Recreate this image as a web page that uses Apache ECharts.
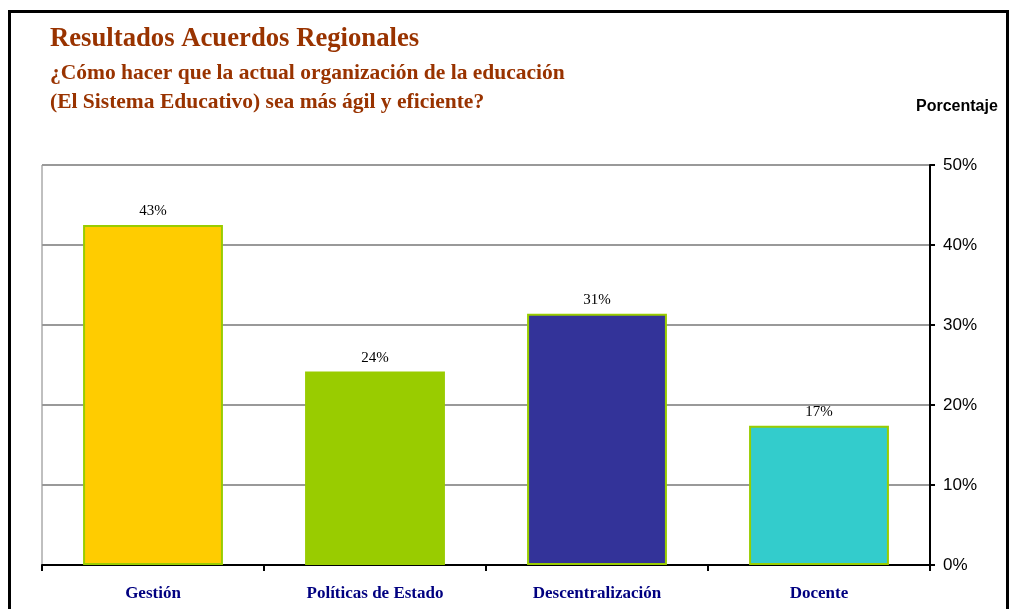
<!DOCTYPE html>
<html><head><meta charset="utf-8">
<script src="https://cdn.jsdelivr.net/npm/echarts@6/dist/echarts.min.js"></script>
<style>html,body{margin:0;padding:0;background:#fff}#c{width:1010px;height:609px}</style>
</head><body><div id="c"></div>
<script>
const categories = ['Gestión', 'Políticas de Estado', 'Descentralización', 'Docente'];
const values = [42.5, 24.2, 31.4, 17.4];
const barColors = ['#FFCC00', '#99CC00', '#333399', '#33CCCC'];
const yTicks = [0, 10, 20, 30, 40, 50];

const chart = echarts.init(document.getElementById('c'));
chart.setOption({
  animation: false,
  backgroundColor: '#fff',
  graphic: [
    { type: 'polyline', shape: { points: [[9.5, 620], [9.5, 11.5], [1007.5, 11.5], [1007.5, 620]] }, style: { stroke: '#000', lineWidth: 3, fill: null } },
    { type: 'text', left: 50, top: 26, style: { text: 'Resultados Acuerdos Regionales', font: 'bold 26.7px "Liberation Serif"', fill: '#993300' } },
    { type: 'text', left: 50, top: 62, style: { text: '¿Cómo hacer que la actual organización de la educación', font: 'bold 21.5px "Liberation Serif"', fill: '#993300' } },
    { type: 'text', left: 50, top: 91, style: { text: '(El Sistema Educativo) sea más ágil y eficiente?', font: 'bold 21.5px "Liberation Serif"', fill: '#993300' } },
    { type: 'text', left: 916, top: 99, style: { text: 'Porcentaje', font: 'bold 16px "Liberation Sans"', fill: '#000' } }
  ],
  grid: { left: 42, right: 80, top: 165, bottom: 44, show: true, borderColor: '#808080', borderWidth: 1 },
  xAxis: {
    type: 'category', data: categories,
    axisLine: { lineStyle: { color: '#000', width: 2 } },
    axisTick: { show: true, length: 6, lineStyle: { color: '#000', width: 2 } },
    axisLabel: { margin: 20, color: '#000080', fontFamily: 'Liberation Serif', fontWeight: 'bold', fontSize: 17 }
  },
  yAxis: {
    type: 'value', position: 'right', min: 0, max: 50, interval: 10,
    axisLine: { show: true, lineStyle: { color: '#000', width: 2 } },
    axisTick: { show: true, length: 5, lineStyle: { color: '#000', width: 2 } },
    axisLabel: { margin: 13, color: '#000', fontFamily: 'Liberation Sans', fontSize: 17, formatter: v => v + '%' },
    splitLine: { lineStyle: { color: '#999', width: 2 } }
  },
  series: [{
    type: 'bar', barWidth: '63%',
    data: values.map((v, i) => ({ value: v, itemStyle: { color: barColors[i] } })),
    itemStyle: { borderColor: '#99CC00', borderWidth: 2 },
    label: { show: true, position: 'top', distance: 6, color: '#000', fontFamily: 'Liberation Serif', fontSize: 15, formatter: p => Math.round(p.value) + '%' }
  }]
});
</script></body></html>
